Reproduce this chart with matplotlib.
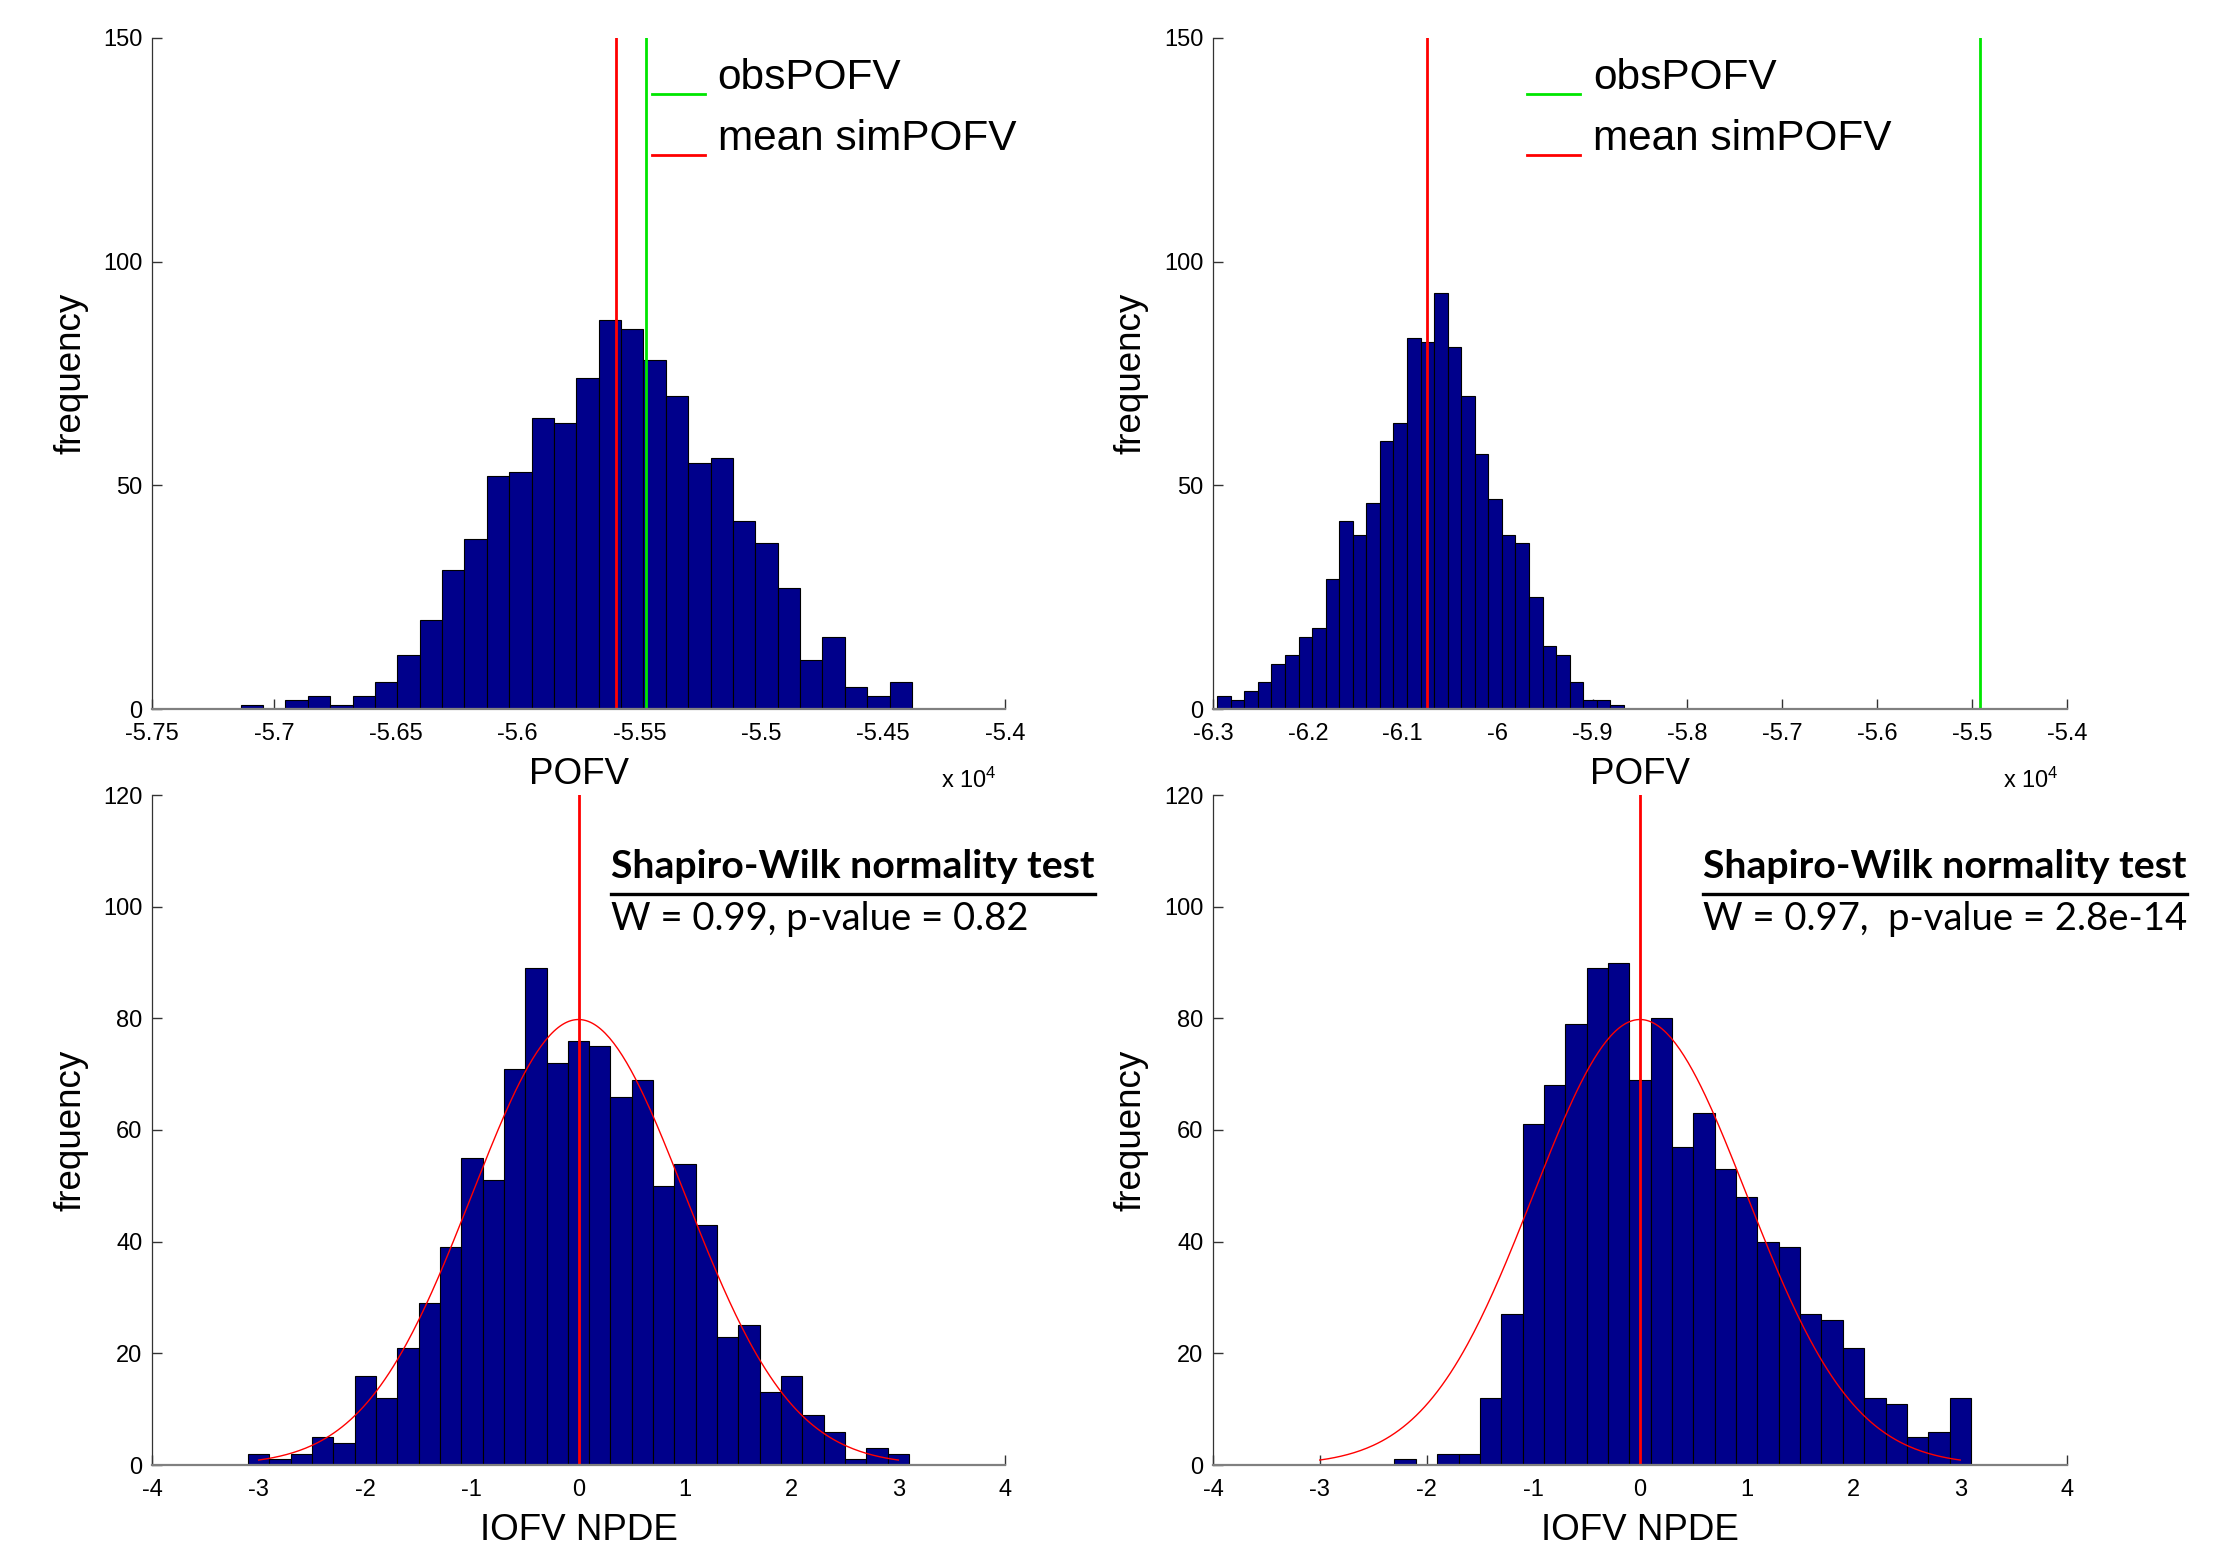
import matplotlib
matplotlib.use("Agg")
import matplotlib.pyplot as plt
import numpy as np
from matplotlib.lines import Line2D
from matplotlib.legend_handler import HandlerLine2D

plt.rcParams["font.family"] = ["Liberation Sans", "DejaVu Sans"]
plt.rcParams["mathtext.fontset"] = "custom"
plt.rcParams["mathtext.rm"] = "Liberation Sans"
plt.rcParams["mathtext.it"] = "Liberation Sans"
plt.rcParams["axes.unicode_minus"] = False

# simulated population OFV (x 10^4), 30 bins each
pofv1_range = (-5.7136, -5.4382)
pofv1_counts = [1, 0, 2, 3, 1, 3, 6, 12, 20, 31, 38, 52, 53, 65, 64,
                74, 87, 85, 78, 70, 55, 56, 42, 37, 27, 11, 16, 5, 3, 6]
pofv1_obs = -5.5472
pofv1_mean = -5.5595

pofv2_range = (-6.2955, -5.8670)
pofv2_counts = [3, 2, 4, 6, 10, 12, 16, 18, 29, 42, 39, 46, 60, 64, 83,
                82, 93, 81, 70, 57, 47, 39, 37, 25, 14, 12, 6, 2, 2, 1]
pofv2_obs = -5.4921
pofv2_mean = -6.0745

# individual OFV NPDE, bins centred on -3 .. 3 (width 0.2)
npde_centres = np.linspace(-3, 3, 31)
npde1_counts = [2, 1, 2, 5, 4, 16, 12, 21, 29, 39, 55, 51, 71, 89, 72, 76,
                75, 66, 69, 50, 54, 43, 23, 25, 13, 16, 9, 6, 1, 3, 2]
npde2_counts = [0, 0, 0, 0, 1, 0, 2, 2, 12, 27, 61, 68, 79, 89, 90, 69,
                80, 57, 63, 53, 48, 40, 39, 27, 26, 21, 12, 11, 5, 6, 12]
n_samples = 1000

sw1 = "W = 0.99, p-value = 0.82"
sw2 = "W = 0.97,  p-value = 2.8e-14"

W, H = 2238, 1548
fig = plt.figure(figsize=(W / 100, H / 100), dpi=100)


def rect(x0, y0, x1, y1):
    return [x0 / W, 1 - y1 / H, (x1 - x0) / W, (y1 - y0) / H]


bar_col = "#00008B"


class LowLine(HandlerLine2D):
    # legend sample sits a little below the label, as in MATLAB
    def create_artists(self, legend, orig_handle, xdescent, ydescent,
                       width, height, fontsize, trans):
        arts = super().create_artists(legend, orig_handle, xdescent, ydescent,
                                      width, height, fontsize, trans)
        for a in arts:
            a.set_ydata(np.asarray(a.get_ydata()) - 0.65 * height)
        return arts


def style(ax):
    ax.spines["top"].set_visible(False)
    ax.spines["right"].set_visible(False)
    ax.spines["left"].set_color("#333333")
    ax.spines["left"].set_linewidth(0.9)
    ax.spines["bottom"].set_color("#808080")
    ax.spines["bottom"].set_linewidth(1.6)
    ax.tick_params(direction="in", length=7, width=1, colors="#333333",
                   labelcolor="black", labelsize=17)
    ax.tick_params(axis="x", pad=10)
    ax.tick_params(axis="y", pad=7)
    ax.set_axisbelow(True)


def pofv_panel(ax, rng, counts, obs, mean, xticks, xlabels, leg_x):
    edges = np.linspace(rng[0], rng[1], len(counts) + 1)
    ax.bar(edges[:-1], counts, width=np.diff(edges), align="edge",
           color=bar_col, edgecolor="black", linewidth=0.8)
    ax.axvline(obs, color="#00E600", lw=2, label="obsPOFV")
    ax.axvline(mean, color="red", lw=2, label="mean simPOFV")
    ax.set_xlim(xticks[0], xticks[-1])
    ax.set_ylim(0, 150)
    ax.set_xticks(xticks)
    ax.set_xticklabels(xlabels)
    ax.set_yticks([0, 50, 100, 150])
    style(ax)
    ax.set_xlabel("POFV", fontsize=26.5)
    ax.set_ylabel("frequency", fontsize=26.5)
    ax.xaxis.set_label_coords(0.5, -0.072)
    ax.yaxis.set_label_coords(-0.075, 0.5)
    ax.legend(loc="upper left", bbox_to_anchor=(leg_x, 0.97), frameon=False,
              fontsize=30.5, handlelength=1.25, handletextpad=0.3,
              borderpad=0, borderaxespad=0, labelspacing=0.5,
              handler_map={Line2D: LowLine()})
    ax.text(0.99, -0.118, r"x 10$^{4}$", transform=ax.transAxes,
            ha="right", va="baseline", fontsize=17)


def npde_panel(ax, counts, sw_text, tx):
    bw = npde_centres[1] - npde_centres[0]
    ax.bar(npde_centres, counts, width=bw, color=bar_col,
           edgecolor="black", linewidth=0.8)
    xs = np.linspace(-3, 3, 300)
    ax.plot(xs, n_samples * bw * np.exp(-xs ** 2 / 2) / np.sqrt(2 * np.pi),
            color="red", lw=1)
    ax.axvline(0, color="red", lw=2)
    ax.set_xlim(-4, 4)
    ax.set_ylim(0, 120)
    ax.set_yticks(range(0, 121, 20))
    style(ax)
    ax.set_xlabel("IOFV NPDE", fontsize=26.5)
    ax.set_ylabel("frequency", fontsize=26.5)
    ax.xaxis.set_label_coords(0.5, -0.072)
    ax.yaxis.set_label_coords(-0.075, 0.5)
    t = fig.text(tx / W, 1 - 878 / H, "Shapiro-Wilk normality test",
                 family="Lato", weight="bold", fontsize=28.3, va="baseline")
    fig.text(tx / W, 1 - 930 / H, sw_text, family="Lato", fontsize=27.5,
             va="baseline")
    return t


ax1 = fig.add_axes(rect(152, 38, 1005, 709))
ax2 = fig.add_axes(rect(1213, 38, 2067, 709))
ax3 = fig.add_axes(rect(152, 795, 1005, 1465))
ax4 = fig.add_axes(rect(1213, 795, 2067, 1465))

t1 = np.round(np.arange(-5.75, -5.399, 0.05), 2)
pofv_panel(ax1, pofv1_range, pofv1_counts, pofv1_obs, pofv1_mean, t1,
           ["%g" % v for v in t1], 0.586)
t2 = np.round(np.arange(-6.3, -5.399, 0.1), 1)
pofv_panel(ax2, pofv2_range, pofv2_counts, pofv2_obs, pofv2_mean, t2,
           ["%g" % v for v in t2], 0.368)

h1 = npde_panel(ax3, npde1_counts, sw1, 611)
h2 = npde_panel(ax4, npde2_counts, sw2, 1703)

# underline the test headings
fig.canvas.draw()
r = fig.canvas.get_renderer()
for h in (h1, h2):
    bb = h.get_window_extent(r)
    y = 1 - 894 / H
    fig.add_artist(Line2D([bb.x0 / W, bb.x1 / W], [y, y], color="black",
                          lw=2.4, transform=fig.transFigure))

fig.savefig("out.png", dpi=100)
